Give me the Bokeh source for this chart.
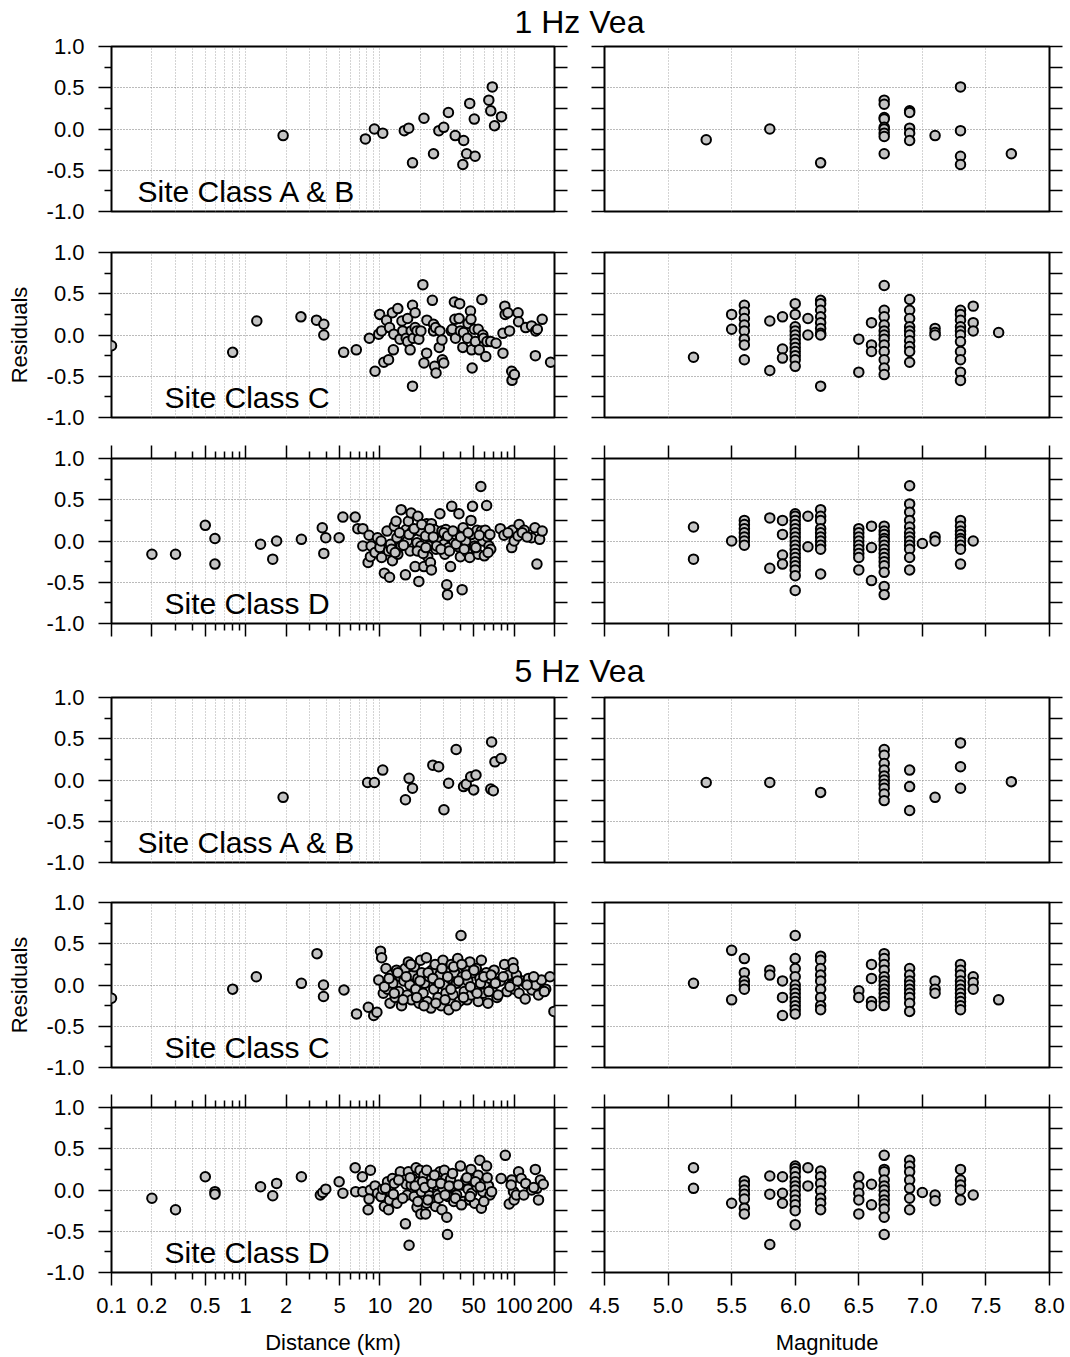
from bokeh.plotting import figure
from bokeh.models import (LinearAxis, LogAxis, FixedTicker, Grid, Label,
                          PrintfTickFormatter, CustomJSTickFormatter)
from bokeh.layouts import column, row
from bokeh.embed import file_html
from bokeh.resources import INLINE

FONT = "Liberation Sans"

# ---------------- tick / label definitions ----------------
dist_major = [0.1, 0.2, 0.5, 1, 2, 5, 10, 20, 50, 100, 200]
dist_minor = [0.3, 0.4, 0.6, 0.7, 0.8, 0.9, 3, 4, 6, 7, 8, 9, 30, 40, 60, 70, 80, 90]
dist_grid = [0.2, 0.3, 0.4, 0.5, 0.6, 0.7, 0.8, 0.9, 1, 2, 3, 4, 5, 6, 7, 8, 9,
             10, 20, 30, 40, 50, 60, 70, 80, 90, 100]
mag_ticks = [4.5, 5.0, 5.5, 6.0, 6.5, 7.0, 7.5, 8.0]
mag_grid = [5.0, 5.5, 6.0, 6.5, 7.0, 7.5]
res_major = [-1.0, -0.5, 0.0, 0.5, 1.0]
res_minor = [-0.75, -0.25, 0.25, 0.75]
res_all = [-1.0, -0.75, -0.5, -0.25, 0.0, 0.25, 0.5, 0.75, 1.0]
res_grid = [-0.5, 0.0, 0.5]

titles = ["1 Hz Vea", "5 Hz Vea"]
site_classes = ["Site Class A & B", "Site Class C", "Site Class D"]

# ---------------- 1 Hz, site class A & B ----------------
d1ab_dist = [1.9, 7.8, 9.1, 10.5, 15.2, 16.4, 17.5, 21.3, 25.1, 27.5, 29.9, 32.4,
             36.4, 42.1, 44.3, 46.7, 41.5, 50.5, 51.2, 64.8, 67.0, 68.8, 71.5, 80.5]
d1ab_res = [-0.08, -0.12, 0.0, -0.05, -0.02, 0.01, -0.41, 0.13, -0.30, -0.02, 0.02, 0.20,
            -0.08, -0.14, -0.30, 0.31, -0.43, 0.12, -0.33, 0.35, 0.22, 0.51, 0.04, 0.15]
m1ab_mag = [5.3, 5.8, 6.2, 6.7, 6.9, 7.1, 7.3, 7.7]
m1ab_res = [[-0.13], [0.0], [-0.41],
            [0.35, 0.30, 0.14, 0.12, 0.02, 0.0, -0.05, -0.09, -0.30],
            [0.22, 0.20, 0.01, -0.05, -0.14], [-0.08],
            [0.51, -0.02, -0.33, -0.43], [-0.30]]

# ---------------- 1 Hz, site class C ----------------
d1c_dist = [0.1, 0.80, 1.21, 2.58, 3.37, 3.82, 3.82, 5.37, 6.67, 8.34,
            9.2, 9.95, 9.8, 10.3, 10.7, 11.6, 11.2, 11.8, 12.4, 12.6,
            12.7, 13.6, 14.1, 14.6, 14.8, 15.7, 16.1, 16.1, 16.8, 17.1,
            17.5, 17.5, 17.7, 18.3, 18.3, 18.9, 19.5, 20.2, 20.9, 21.3,
            22.3, 22.4, 24.6, 25.1, 25.1, 25.6, 26.0, 26.2, 27.7, 28.0,
            29.0, 29.2, 29.9, 34.1, 34.6, 35.9, 36.2, 36.6, 38.9, 39.3,
            39.8, 41.5, 42.0, 44.9, 45.4, 47.3, 47.7, 48.3, 48.7, 50.5,
            51.5, 54.0, 55.0, 57.5, 58.5, 59.2, 61.5, 62.8, 67.0, 73.4,
            82.6, 82.6, 85.3, 85.8, 90.0, 92.5, 96.0, 96.5, 100.5, 107,
            108, 122, 135, 144, 145, 149, 162, 187]
d1c_res = [-0.13, -0.21, 0.17, 0.22, 0.18, 0.13, 0.0, -0.21, -0.18, -0.04,
           -0.44, 0.25, 0.01, 0.05, -0.33, -0.30, 0.18, 0.09, 0.27, -0.18,
           0.01, 0.32, -0.05, 0.17, 0.05, -0.04, -0.08, 0.20, -0.18, 0.05,
           -0.62, 0.36, -0.04, 0.27, 0.09, 0.05, -0.05, 0.05, 0.61, -0.34,
           -0.22, 0.18, 0.42, 0.13, 0.05, -0.38, 0.09, -0.46, -0.15, 0.05,
           -0.06, -0.30, -0.34, 0.05, 0.07, 0.40, 0.19, -0.04, 0.20, 0.38,
           0.05, -0.15, 0.03, -0.04, 0.14, 0.29, 0.19, -0.18, -0.40, 0.07,
           -0.08, 0.07, -0.18, 0.43, 0.0, -0.04, -0.26, -0.08, -0.08, -0.10,
           -0.22, 0.02, 0.35, 0.25, 0.27, 0.05, -0.44, -0.55, -0.48, 0.27,
           0.16, 0.09, 0.11, -0.25, 0.05, 0.07, 0.19, -0.33]
m1c_mag = [5.2, 5.5, 5.6, 5.8, 5.9, 6.0, 6.1, 6.2, 6.5, 6.6, 6.7, 6.9, 7.1, 7.3, 7.4, 7.6]
m1c_res = [[-0.27], [0.25, 0.07],
           [0.36, 0.28, 0.20, 0.12, 0.05, -0.05, -0.12, -0.30],
           [0.17, -0.43], [0.22, -0.17, -0.28],
           [0.38, 0.25, 0.10, 0.05, 0.0, -0.05, -0.10, -0.15, -0.20, -0.25, -0.30, -0.38],
           [0.20, 0.0],
           [0.42, 0.38, 0.30, 0.22, 0.15, 0.08, 0.02, 0.0, -0.62],
           [-0.05, -0.45], [0.15, -0.12, -0.20],
           [0.60, 0.30, 0.22, 0.12, 0.05, 0.0, -0.05, -0.12, -0.20, -0.30, -0.40, -0.48],
           [0.43, 0.30, 0.20, 0.10, 0.05, 0.0, -0.07, -0.14, -0.20, -0.33],
           [0.08, 0.03, 0.0],
           [0.30, 0.25, 0.18, 0.10, 0.05, 0.0, -0.08, -0.20, -0.30, -0.45, -0.55],
           [0.35, 0.15, 0.05], [0.03]]

# ---------------- 1 Hz, site class D ----------------
d1d_dist = [0.2, 0.3, 0.5, 0.59, 0.59, 1.29, 1.59, 1.70, 2.6, 3.72,
            3.82, 3.95, 4.97, 5.3, 6.54, 6.85, 7.46, 7.46, 8.17, 8.3,
            8.5, 8.6, 9.2, 9.6, 10.0, 10.2, 10.3, 10.8, 11.3, 11.6,
            11.8, 12.0, 12.4, 12.8, 13.2, 13.4, 13.6, 14.4, 14.4, 15.5,
            15.7, 16.0, 16.3, 16.8, 17.1, 17.5, 18.3, 18.9, 19.2, 19.9,
            20.2, 19.5, 21.3, 21.9, 22.3, 22.7, 23.0, 23.8, 24.2, 24.2,
            25.4, 26.2, 27.0, 28.0, 29.0, 29.9, 30.5, 31.0, 31.5, 31.9,
            32.6, 33.6, 34.3, 35.5, 36.4, 38.4, 38.8, 39.8, 41.0, 41.7,
            43.6, 44.9, 46.7, 47.7, 48.3, 49.0, 50.8, 53.0, 54.0, 56.5,
            57.0, 58.5, 61.0, 62.4, 63.3, 65.0, 67.0, 78.9, 84.0, 96.0,
            97.0, 100.0, 107, 109, 119, 135, 143, 148, 155, 162,
            12.2, 13.0, 14.0, 15.0, 16.5, 18.0, 19.0, 20.5, 21.0, 22.0,
            23.5, 25.0, 26.5, 28.5, 30.0, 32.0, 33.0, 35.0, 37.0, 40.0,
            42.5, 45.5, 52.0, 55.0, 60.0, 64.0, 66.0, 90.0, 115, 125]
d1d_res = [-0.16, -0.16, 0.19, 0.03, -0.28, -0.04, -0.22, 0.0, 0.02, 0.16,
           -0.15, 0.04, 0.04, 0.29, 0.29, 0.15, 0.15, -0.06, -0.26, 0.07,
           -0.19, -0.06, -0.14, 0.04, -0.08, 0.0, -0.20, -0.39, 0.12, -0.12,
           -0.44, -0.04, -0.24, 0.18, 0.24, 0.04, -0.16, 0.38, -0.06, -0.41,
           0.14, 0.0, 0.24, -0.12, 0.34, 0.12, -0.31, -0.02, 0.30, 0.12,
           -0.06, -0.49, -0.31, 0.06, 0.21, -0.19, -0.06, -0.26, -0.35, 0.21,
           0.14, -0.10, 0.0, 0.33, 0.12, -0.04, -0.16, 0.14, -0.53, -0.65,
           -0.08, -0.31, 0.42, 0.0, 0.08, -0.07, 0.33, -0.19, -0.59, 0.16,
           0.0, -0.14, -0.20, 0.25, 0.08, 0.42, -0.06, 0.13, -0.16, 0.66,
           0.12, 0.0, 0.13, 0.43, 0.05, -0.06, -0.10, 0.15, 0.07, -0.08,
           0.13, 0.0, 0.06, 0.20, 0.13, 0.04, 0.16, -0.28, 0.02, 0.12,
           -0.10, -0.14, 0.10, -0.05, 0.08, 0.15, -0.12, 0.20, -0.15, -0.08,
           0.15, 0.05, -0.06, -0.10, 0.10, 0.06, -0.12, 0.12, -0.04, 0.05,
           -0.10, 0.10, -0.08, 0.07, -0.18, -0.14, 0.08, 0.10, 0.10, 0.05]
m1d_mag = [5.2, 5.5, 5.6, 5.8, 5.9, 6.0, 6.1, 6.2, 6.5, 6.6, 6.7, 6.9, 7.0, 7.1, 7.3, 7.4]
m1d_res = [[0.17, -0.22], [0.0],
           [0.25, 0.20, 0.15, 0.10, 0.05, 0.0, -0.05],
           [0.28, -0.33], [0.25, 0.08, -0.17, -0.28],
           [0.33, 0.30, 0.25, 0.20, 0.15, 0.10, 0.05, 0.0, -0.05, -0.10, -0.15,
            -0.20, -0.25, -0.30, -0.35, -0.42, -0.60],
           [0.30, -0.07],
           [0.38, 0.30, 0.25, 0.15, 0.10, 0.05, 0.0, -0.05, -0.10, -0.40],
           [0.15, 0.10, 0.05, 0.0, -0.05, -0.10, -0.15, -0.20, -0.35],
           [0.18, -0.08, -0.48],
           [0.18, 0.12, 0.08, 0.03, 0.0, -0.05, -0.10, -0.15, -0.20, -0.25,
            -0.30, -0.38, -0.55, -0.65],
           [0.67, 0.45, 0.35, 0.25, 0.17, 0.10, 0.05, 0.0, -0.05, -0.10, -0.20, -0.35],
           [-0.03], [0.05, 0.0],
           [0.25, 0.18, 0.12, 0.08, 0.03, 0.0, -0.05, -0.10, -0.28],
           [0.0]]

# ---------------- 5 Hz, site class A & B ----------------
d5ab_dist = [1.9, 8.1, 9.1, 10.5, 15.5, 16.5, 17.5, 24.8, 27.4, 30.0, 32.5,
             37.0, 42.0, 44.0, 47.5, 50.0, 52.0, 67.0, 68.0, 70.0, 72.0, 80.0]
d5ab_res = [-0.21, -0.03, -0.03, 0.12, -0.24, 0.02, -0.10, 0.18, 0.16, -0.36, -0.04,
            0.37, -0.08, -0.05, 0.04, -0.12, 0.06, -0.11, 0.46, -0.13, 0.22, 0.26]
m5ab_mag = [5.3, 5.8, 6.2, 6.7, 6.9, 7.1, 7.3, 7.7]
m5ab_res = [[-0.03], [-0.03], [-0.15],
            [0.37, 0.30, 0.20, 0.12, 0.05, 0.0, -0.05, -0.10, -0.17, -0.25],
            [0.12, -0.08, -0.37], [-0.21], [0.45, 0.16, -0.10], [-0.02]]

# ---------------- 5 Hz, site class C ----------------
d5c_dist = [0.1, 0.8, 1.2, 2.6, 3.4, 3.8, 3.8, 5.4, 6.7, 8.2, 9.0, 9.5, 9.8, 10.1, 10.3, 10.6,
            11.1, 11.4, 11.9, 12.2, 12.5, 13.0, 13.3, 13.8, 14.2, 14.5,
            15.1, 15.4, 16.0, 16.3, 16.7, 17.2, 17.6, 18.1, 18.5, 19.2,
            19.6, 20.1, 20.5, 21.0, 21.6, 22.2, 22.6, 23.3, 24.0, 24.4,
            25.2, 25.8, 26.5, 27.1, 28.0, 28.6, 29.5, 30.1, 31.0, 31.7,
            32.6, 33.5, 34.0, 35.1, 36.0, 37.2, 38.0, 39.0, 40.2, 41.0,
            42.5, 43.1, 44.6, 45.2, 46.8, 48.0, 49.5, 51.0, 52.3, 54.1,
            55.6, 57.0, 58.8, 60.5, 62.1, 63.9, 66.2, 68.4, 71.0, 74.5,
            79.0, 85.0, 88.5, 91.0, 95.0, 98.0, 101.0, 104.0, 109.0, 115.0,
            121.0, 128.0, 136.0, 145.0, 152.0, 160.0, 172.0, 185.0, 198.0,
            10.8, 11.7, 12.8, 13.6, 14.9, 15.7, 17.0, 18.8, 19.9, 21.3,
            22.9, 24.8, 26.1, 27.8, 29.0, 30.6, 32.0, 33.8, 35.5, 36.8,
            38.6, 40.8, 42.0, 44.0, 47.2, 50.2, 53.0, 56.2, 59.5, 64.8,
            67.5, 72.5, 76.0, 83.0, 93.0, 99.0, 106.0, 125.0, 140.0, 168.0]
d5c_res = [-0.16, -0.05, 0.10, 0.02, 0.38, 0.0, -0.14, -0.06, -0.35, -0.27, -0.37, -0.33, 0.06, 0.41, 0.33, -0.10,
           0.20, -0.05, -0.22, 0.12, 0.02, -0.15, 0.18, -0.08, 0.10, -0.25,
           0.05, 0.20, -0.12, 0.28, 0.0, -0.18, 0.12, 0.22, -0.05, 0.08,
           -0.22, 0.30, 0.15, -0.10, 0.02, 0.33, -0.20, 0.10, -0.28, 0.18,
           -0.05, 0.25, 0.05, -0.15, 0.12, -0.25, 0.30, 0.0, -0.10, 0.18,
           -0.30, 0.08, 0.25, -0.12, 0.15, 0.02, 0.32, -0.20, 0.60, 0.10,
           -0.08, 0.22, -0.18, 0.05, 0.28, -0.12, 0.15, -0.05, 0.20, -0.20,
           0.08, 0.30, -0.10, 0.02, 0.15, -0.22, 0.08, -0.06, 0.18, -0.15,
           0.05, 0.25, -0.08, 0.12, 0.0, 0.27, -0.05, 0.12, -0.10, 0.05,
           -0.17, 0.08, -0.06, 0.0, -0.12, 0.06, -0.05, 0.10, -0.32,
           -0.02, 0.08, -0.10, 0.15, -0.18, 0.10, 0.25, -0.15, 0.05, -0.25,
           0.15, 0.08, -0.22, 0.02, 0.20, -0.18, 0.10, -0.05, 0.22, -0.25,
           0.05, 0.25, -0.15, 0.12, -0.02, 0.18, -0.10, 0.02, 0.10, -0.08,
           0.12, 0.02, -0.12, 0.10, -0.02, 0.20, 0.05, 0.0, 0.10, -0.08]
m5c_mag = [5.2, 5.5, 5.6, 5.8, 5.9, 6.0, 6.2, 6.5, 6.6, 6.7, 6.9, 7.1, 7.3, 7.4, 7.6]
m5c_res = [[0.02], [0.42, -0.18], [0.32, 0.15, 0.05, 0.0, -0.05],
           [0.18, 0.12], [0.05, -0.15, -0.37],
           [0.60, 0.32, 0.20, 0.10, 0.0, -0.05, -0.10, -0.15, -0.20, -0.25, -0.30, -0.35],
           [0.35, 0.30, 0.20, 0.12, 0.05, -0.05, -0.15, -0.25, -0.30],
           [-0.07, -0.15], [0.25, 0.08, -0.20, -0.25],
           [0.38, 0.32, 0.25, 0.18, 0.10, 0.05, 0.0, -0.05, -0.10, -0.15, -0.20, -0.25],
           [0.20, 0.12, 0.05, 0.0, -0.05, -0.10, -0.15, -0.22, -0.32],
           [0.05, -0.05, -0.10],
           [0.25, 0.18, 0.12, 0.05, 0.0, -0.05, -0.10, -0.15, -0.20, -0.25, -0.30],
           [0.10, 0.03, -0.05], [-0.18]]

# ---------------- 5 Hz, site class D ----------------
d5d_dist = [0.2, 0.3, 0.5, 0.59, 0.59, 1.29, 1.59, 1.70, 2.6, 3.6,
            3.75, 3.95, 4.97, 5.3, 6.54, 6.6, 7.4, 7.46, 8.17, 8.5,
            8.5, 8.3, 9.2, 9.6, 10.2, 10.5, 10.8, 11.4, 11.6, 11.8,
            12.0, 12.4, 12.8, 13.4, 14.2, 15.5, 15.7, 16.0, 16.3, 16.5,
            17.1, 17.5, 18.0, 18.6, 18.9, 19.5, 19.9, 20.2, 20.4, 21.3,
            21.9, 22.3, 22.3, 23.0, 23.4, 24.2, 24.8, 26.0, 26.2, 27.0,
            28.0, 29.0, 29.5, 30.2, 31.0, 31.5, 31.9, 32.3, 33.6, 34.2,
            35.5, 37.3, 39.8, 41.0, 42.0, 43.6, 45.4, 46.7, 47.7, 48.3,
            49.0, 50.8, 53.0, 54.0, 55.5, 57.0, 58.5, 61.0, 62.4, 64.5,
            66.0, 80.0, 86.0, 92.0, 96.0, 99.0, 100.0, 104.0, 108.0, 113.0,
            122, 135, 144, 148, 152, 157, 165,
            11.0, 12.6, 13.8, 14.8, 16.8, 18.3, 19.2, 20.8, 21.6, 22.8,
            24.5, 25.5, 27.5, 28.5, 30.6, 32.8, 34.8, 36.5, 38.5, 40.5,
            44.5, 47.0, 51.5, 56.0, 59.5, 63.0, 68.0, 95.0, 118.0, 140.0]
d5d_res = [-0.10, -0.24, 0.16, -0.02, -0.05, 0.04, -0.07, 0.08, 0.16, -0.06,
           -0.03, 0.01, 0.10, -0.04, 0.27, -0.02, 0.16, -0.02, -0.24, 0.24,
           0.0, -0.11, 0.05, -0.04, -0.08, 0.01, -0.20, 0.10, -0.24, -0.12,
           -0.02, 0.14, 0.08, -0.16, 0.22, -0.41, 0.07, -0.06, 0.22, -0.67,
           0.06, 0.14, -0.08, 0.27, -0.21, 0.10, 0.24, -0.29, -0.02, 0.18,
           -0.29, -0.16, 0.24, 0.0, -0.07, 0.13, -0.12, -0.20, 0.06, -0.06,
           0.22, -0.24, 0.02, 0.24, 0.14, -0.33, -0.54, -0.08, 0.13, 0.04,
           -0.14, -0.06, 0.29, 0.06, -0.14, 0.12, 0.01, -0.12, 0.25, -0.04,
           0.12, -0.16, 0.04, 0.18, 0.36, -0.22, -0.02, 0.10, 0.29, 0.05,
           -0.06, 0.14, 0.42, -0.17, 0.12, -0.02, -0.12, -0.06, 0.22, 0.14,
           0.08, 0.0, 0.25, 0.02, -0.12, 0.12, 0.07,
           0.02, -0.05, 0.12, -0.10, 0.15, 0.05, -0.14, 0.10, 0.03, -0.12,
           0.08, 0.18, -0.10, 0.08, -0.06, 0.05, 0.20, -0.10, 0.06, -0.18,
           0.15, -0.08, 0.10, 0.04, -0.14, 0.15, -0.02, 0.06, -0.06, 0.03]
m5d_mag = [5.2, 5.5, 5.6, 5.8, 5.9, 6.0, 6.1, 6.2, 6.5, 6.6, 6.7, 6.9, 7.0, 7.1, 7.3, 7.4]
m5d_res = [[0.27, 0.02], [-0.16],
           [0.11, 0.06, 0.0, -0.05, -0.11, -0.22, -0.29],
           [0.17, -0.05, -0.66], [0.16, -0.04, -0.16],
           [0.29, 0.26, 0.22, 0.16, 0.10, 0.05, 0.0, -0.06, -0.12, -0.18, -0.25, -0.42],
           [0.27, 0.05],
           [0.23, 0.16, 0.08, -0.01, -0.10, -0.16, -0.24],
           [0.16, 0.05, -0.04, -0.12, -0.29],
           [0.07, -0.18],
           [0.42, 0.25, 0.22, 0.12, 0.05, 0.0, -0.06, -0.12, -0.17, -0.23, -0.33, -0.54],
           [0.36, 0.29, 0.22, 0.12, 0.02, -0.10, -0.24],
           [-0.03], [-0.06, -0.13],
           [0.25, 0.12, 0.06, 0.0, -0.12],
           [-0.06]]


# ---------------- helpers ----------------
def flatten(mags, groups):
    xs, ys = [], []
    for m, g in zip(mags, groups):
        for v in g:
            xs.append(m)
            ys.append(v)
    return xs, ys


FRAME_H = 165
BLANK = CustomJSTickFormatter(code="return ''")


def blank_axis(cls, ticks, minor=None, major_len=13, minor_len=7):
    kw = dict(ticker=FixedTicker(ticks=ticks, minor_ticks=minor or []),
              formatter=BLANK, major_tick_out=major_len, major_tick_in=0,
              minor_tick_out=minor_len, minor_tick_in=0, axis_line_color=None,
              major_label_standoff=0, major_label_text_font_size="0px",
              major_tick_line_width=1.5, minor_tick_line_width=1.5)
    return cls(**kw)


def make_panel(kind, xs, ys, top, bottom, xaxes="none", site=None, ylabel=None):
    common = dict(height=top + FRAME_H + bottom, y_range=(-1, 1),
                  x_axis_location=None, y_axis_location=None,
                  toolbar_location=None, output_backend="svg", title=None,
                  min_border_top=top, min_border_bottom=bottom,
                  background_fill_color="white", border_fill_color=None)
    if kind == "dist":
        p = figure(width=580, x_axis_type="log", x_range=(0.1, 200),
                   min_border_left=111, min_border_right=26, **common)
    else:
        p = figure(width=490, x_range=(4.5, 8.0),
                   min_border_left=24, min_border_right=21, **common)
    p.grid.visible = False
    p.outline_line_color = "black"
    p.outline_line_width = 2

    vgrid = dist_grid if kind == "dist" else mag_grid
    p.add_layout(Grid(dimension=0, ticker=FixedTicker(ticks=vgrid),
                      grid_line_color="#a8a8a8", grid_line_dash="1 2", grid_line_width=1))
    p.add_layout(Grid(dimension=1, ticker=FixedTicker(ticks=res_grid),
                      grid_line_color="#777777", grid_line_dash="1 2", grid_line_width=1))

    # y axes
    if kind == "dist":
        ly = LinearAxis(ticker=FixedTicker(ticks=res_major, minor_ticks=res_minor),
                        formatter=PrintfTickFormatter(format="%.1f"),
                        major_tick_out=13, major_tick_in=0, minor_tick_out=7, minor_tick_in=0,
                        major_tick_line_width=1.5, minor_tick_line_width=1.5,
                        major_label_standoff=14, axis_line_color=None,
                        major_label_text_font=FONT, major_label_text_font_size="22px",
                        major_label_text_color="black")
        if ylabel:
            ly.axis_label = ylabel
            ly.axis_label_text_font = FONT
            ly.axis_label_text_font_size = "22px"
            ly.axis_label_text_font_style = "normal"
            ly.axis_label_text_color = "black"
            ly.axis_label_standoff = 12
        p.add_layout(ly, "left")
    else:
        p.add_layout(blank_axis(LinearAxis, res_all, major_len=13), "left")
    p.add_layout(blank_axis(LinearAxis, res_all, major_len=13), "right")

    # x axes
    if xaxes in ("ticks", "labels"):
        if kind == "dist":
            p.add_layout(blank_axis(LogAxis, dist_major, dist_minor), "above")
        else:
            p.add_layout(blank_axis(LinearAxis, mag_ticks), "above")
        if xaxes == "ticks":
            if kind == "dist":
                p.add_layout(blank_axis(LogAxis, dist_major, dist_minor), "below")
            else:
                p.add_layout(blank_axis(LinearAxis, mag_ticks), "below")
        else:
            if kind == "dist":
                bx = LogAxis(ticker=FixedTicker(ticks=dist_major, minor_ticks=dist_minor),
                             formatter=CustomJSTickFormatter(code="return String(tick)"),
                             axis_label="Distance (km)")
            else:
                bx = LinearAxis(ticker=FixedTicker(ticks=mag_ticks),
                                formatter=PrintfTickFormatter(format="%.1f"),
                                axis_label="Magnitude")
            bx.major_tick_out = 13
            bx.major_tick_in = 0
            bx.minor_tick_out = 7
            bx.minor_tick_in = 0
            bx.major_tick_line_width = 1.5
            bx.minor_tick_line_width = 1.5
            bx.axis_line_color = None
            bx.major_label_standoff = 12
            bx.major_label_text_font = FONT
            bx.major_label_text_font_size = "22px"
            bx.major_label_text_color = "black"
            bx.axis_label_text_font = FONT
            bx.axis_label_text_font_size = "22px"
            bx.axis_label_text_font_style = "normal"
            bx.axis_label_text_color = "black"
            bx.axis_label_standoff = 14
            p.add_layout(bx, "below")

    n = min(len(xs), len(ys))
    p.scatter(xs[:n], ys[:n], marker="circle", size=9.5, fill_color="#c4c4c4",
              line_color="black", line_width=2)

    if site:
        off = 26 if site == site_classes[0] else 53
        p.add_layout(Label(x=off, y=20, x_units="screen", y_units="screen",
                           text=site, text_font=FONT, text_font_size="30px",
                           text_color="black", text_baseline="alphabetic",
                           text_align="left"))
    return p


def title_fig(text, h, base):
    p = figure(width=1070, height=h, x_range=(0, 1), y_range=(0, 1),
               x_axis_location=None, y_axis_location=None, toolbar_location=None,
               output_backend="svg", title=None,
               min_border_left=0, min_border_right=0, min_border_top=0, min_border_bottom=0,
               outline_line_color=None, background_fill_color=None, border_fill_color=None)
    p.grid.visible = False
    p.add_layout(Label(x=579, y=base, x_units="screen", y_units="screen", text=text,
                       text_font=FONT, text_font_size="32px", text_color="black",
                       text_align="center", text_baseline="alphabetic"))
    return p


rows_spec = [
    # (dist x, dist y, mag, mag groups, top, bottom, xaxes, site, ylabel, overlap)
    (d1ab_dist, d1ab_res, m1ab_mag, m1ab_res, 18, 20, "none", site_classes[0], None, 24),
    (d1c_dist, d1c_res, m1c_mag, m1c_res, 21, 20, "none", site_classes[1], "Residuals", 0),
    (d1d_dist, d1d_res, m1d_mag, m1d_res, 21, 20, "ticks", site_classes[2], None, 0),
    (d5ab_dist, d5ab_res, m5ab_mag, m5ab_res, 23, 20, "none", site_classes[0], None, 26),
    (d5c_dist, d5c_res, m5c_mag, m5c_res, 20, 20, "none", site_classes[1], "Residuals", 0),
    (d5d_dist, d5d_res, m5d_mag, m5d_res, 20, 85, "labels", site_classes[2], None, 0),
]

children = [title_fig(titles[0], 52, 31)]
for i, (dx, dy, mm, mg, top, bot, xa, site, yl, ov) in enumerate(rows_spec):
    if i == 3:
        children.append(title_fig(titles[1], 57, 30))
    left = make_panel("dist", dx, dy, top, bot, xa, site, yl)
    mx, my = flatten(mm, mg)
    right = make_panel("mag", mx, my, top, bot, xa)
    if ov:
        children.append(row(left, right, spacing=0, margin=(-ov, 0, 0, 0)))
    else:
        children.append(row(left, right, spacing=0))

layout = column(*children, spacing=0)

open("out.html", "w").write(file_html(layout, INLINE))
